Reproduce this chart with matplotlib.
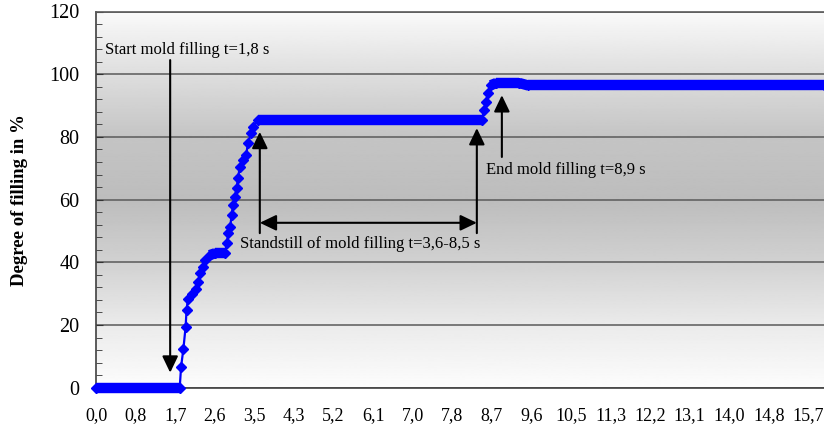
"""Degree of mold filling over time, rebuilt with matplotlib."""
import numpy as np
import matplotlib
matplotlib.use("Agg")
import matplotlib.pyplot as plt
from matplotlib.ticker import MultipleLocator

plt.rcParams["font.family"] = ["Liberation Serif", "DejaVu Serif"]

# measured curve (time in s, filling in %)
time_s = [0.0, 1.84, 1.87, 1.92, 1.97, 1.99, 2.02, 2.10, 2.20, 2.24, 2.29,
          2.35, 2.40, 2.50, 2.62, 2.84, 2.87, 2.91, 2.95, 2.98, 3.01, 3.05,
          3.09, 3.12, 3.16, 3.22, 3.30, 3.34, 3.41, 3.45, 3.55, 8.48, 8.53,
          8.57, 8.61, 8.68, 8.80, 9.30, 9.50, 16.0]
filling = [0.0, 0.0, 6.7, 12.3, 19.5, 24.8, 28.3, 30.0, 31.6, 33.8, 36.5,
           38.6, 40.7, 42.3, 42.9, 42.9, 46.0, 49.3, 51.3, 55.0, 58.2, 60.9,
           63.6, 66.8, 70.4, 72.6, 74.2, 78.0, 81.2, 83.2, 85.5, 85.5, 88.5,
           91.2, 93.9, 96.5, 97.2, 97.2, 96.4, 96.4]

x_labels = ["0,0", "0,8", "1,7", "2,6", "3,5", "4,3", "5,2", "6,1", "7,0",
            "7,8", "8,7", "9,6", "10,5", "11,3", "12,2", "13,1", "14,0",
            "14,8", "15,7"]
label_step = 0.87  # one label every 15 samples

BLUE = "#0000ff"
GRID = "#5a5a5a"

fig = plt.figure(figsize=(8.24, 4.30), dpi=100)
ax = fig.add_axes([96 / 824, 1 - 387.7 / 430, 1 - 96 / 824, 376.2 / 430])

# grey gradient background (light at top and bottom, darker in the middle)
yy = np.linspace(0, 120, 400)
shade = np.interp(yy, [0, 20, 40, 60, 80, 100, 120],
                  [0.99, 0.92, 0.82, 0.74, 0.77, 0.87, 0.98])
ax.imshow(shade[:, None], extent=[0, 16.0, 0, 120], origin="lower",
          aspect="auto", cmap="gray", vmin=0, vmax=1, zorder=0)

t = np.array(time_s)
v = np.array(filling)

# plateaus look like a thick band of overlapping markers
for i in range(len(t) - 1):
    if abs(v[i + 1] - v[i]) <= 1.0:
        ax.plot(t[i:i + 2], v[i:i + 2], color=BLUE, lw=7.5,
                solid_capstyle="butt", zorder=3, clip_on=False)
ax.plot(t, v, color=BLUE, lw=1.6, marker="D", ms=5.2, mec=BLUE, mfc=BLUE,
        zorder=4, clip_on=False)

ax.set_xlim(0, 16.0)
ax.set_ylim(0, 120)

ax.yaxis.set_major_locator(MultipleLocator(20))
ax.yaxis.set_minor_locator(MultipleLocator(4))
ax.yaxis.grid(True, which="major", color=GRID, lw=1.1, zorder=1)
ax.set_axisbelow(True)
ax.tick_params(axis="y", which="both", direction="in", color="#333333",
               labelsize=14.5, pad=12)
ax.tick_params(axis="y", which="major", length=5)
ax.tick_params(axis="y", which="minor", length=4)

ax.set_xticks(np.arange(len(x_labels)) * label_step)
ax.set_xticklabels(x_labels)
ax.tick_params(axis="x", length=0, labelsize=13, pad=14)

for side in ("left", "top", "bottom"):
    ax.spines[side].set_color("#404040")
    ax.spines[side].set_linewidth(1.2)
ax.spines["top"].set_color(GRID)
ax.spines["right"].set_visible(False)

ax.set_ylabel("Degree of filling in %", fontsize=13.5, fontweight="bold")
ax.yaxis.set_label_coords(-0.093, 0.5)

head = "-|>,head_length=0.5,head_width=0.24"
arrow = dict(arrowstyle=head, color="black", lw=1.5, mutation_scale=20,
             shrinkA=0, shrinkB=0)

# start of filling
ax.text(0.2, 106.6, "Start mold filling t=1,8 s", fontsize=12, va="baseline")
ax.annotate("", xy=(1.63, 4.8), xytext=(1.63, 104.5), arrowprops=arrow, zorder=5)

# standstill
ax.annotate("", xy=(3.60, 81.6), xytext=(3.60, 49.3), arrowprops=arrow, zorder=5)
ax.annotate("", xy=(8.37, 82.8), xytext=(8.37, 49.3), arrowprops=arrow, zorder=5)
ax.annotate("", xy=(8.37, 52.6), xytext=(3.60, 52.6),
            arrowprops=dict(arrow, arrowstyle="<|-|>,head_length=0.5,head_width=0.24"),
            zorder=5)
ax.text(3.16, 44.6, "Standstill of mold filling t=3,6-8,5 s", fontsize=12,
        va="baseline")

# end of filling
ax.annotate("", xy=(8.92, 93.3), xytext=(8.92, 73.6), arrowprops=arrow, zorder=5)
ax.text(8.57, 68.3, "End mold filling t=8,9 s", fontsize=12, va="baseline")

fig.savefig("out.png", dpi=100)
plt.close(fig)
